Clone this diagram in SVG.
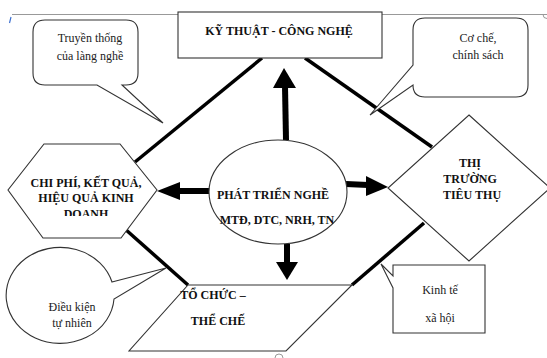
<svg xmlns="http://www.w3.org/2000/svg" width="547" height="358" viewBox="0 0 547 358">
<style>
.shape{fill:#fff;stroke:#333;stroke-width:1.1}
.thick{stroke:#000;stroke-width:3.5;fill:none}
.b{font-family:"Liberation Serif",serif;font-weight:bold;font-size:12px;fill:#111;text-anchor:middle}
.r{font-family:"Liberation Serif",serif;font-size:12px;fill:#222;text-anchor:middle}
.frame{stroke:#999;stroke-width:1;fill:none}
</style>
<defs>
<clipPath id="hexclip"><rect x="0" y="140" width="160" height="76"/></clipPath>
</defs>
<rect width="547" height="358" fill="#fff"/>
<g id="frame">
<line class="frame" x1="12" y1="14.5" x2="547" y2="14.5"/>
<path class="frame" d="M275 14.5 a4 4 0 0 0 8 0"/>
<path class="frame" d="M543 14.5 a4 4 0 0 0 4 4"/>
<path d="M11 17 l-1.5 6" stroke="#3b6fd0" stroke-width="1.2" fill="none"/>
<path class="frame" d="M275 358 a4 4 0 0 1 8 0"/>
</g>
<g id="connectors">
<line class="thick" x1="262" y1="58" x2="135" y2="162"/>
<line class="thick" x1="305" y1="58" x2="432" y2="147"/>
<line class="thick" x1="125" y1="229" x2="188" y2="285"/>
<line class="thick" x1="352" y1="285" x2="424" y2="223"/>
<line x1="286" y1="140" x2="285" y2="86" stroke="#000" stroke-width="6"/>
<polygon points="284,68 273,88 296,88" fill="#000"/>
<line x1="346" y1="184" x2="368" y2="185" stroke="#000" stroke-width="6"/>
<polygon points="388,187 366,176 366,196" fill="#000"/>
<line x1="210" y1="191" x2="178" y2="191" stroke="#000" stroke-width="6"/>
<polygon points="157,191 180,182 180,200" fill="#000"/>
<line x1="287" y1="244" x2="287" y2="264" stroke="#000" stroke-width="6"/>
<polygon points="287,280 276,262 298,262" fill="#000"/>
</g>
<g id="ky-thuat">
<rect class="shape" x="178" y="12" width="204" height="46"/>
<text class="b" x="279" y="35" font-size="12.5">KỸ THUẬT - CÔNG NGHỆ</text>
</g>
<g id="truyen-thong">
<path class="shape" d="M45 20 H126 Q138 20 138 32 V73 Q138 85 126 85 H122 L163 123 L97 85 H45 Q33 85 33 73 V32 Q33 20 45 20 Z"/>
<text class="r" x="90" y="42">Truyền thống</text>
<text class="r" x="90" y="60">của làng nghề</text>
</g>
<g id="co-che">
<path class="shape" d="M425 18 H516 Q528 18 528 30 V85 Q528 97 516 97 H425 Q413 97 413 85 L370 115 L413 65 V30 Q413 18 425 18 Z"/>
<text class="r" x="478" y="42">Cơ chế,</text>
<text class="r" x="478" y="59">chính sách</text>
</g>
<g id="chi-phi">
<polygon class="shape" points="44,144 120,144 157,190 121,238 43,238 8,190"/>
<text class="b" x="86" y="187">CHI PHÍ, KẾT QUẢ,</text>
<text class="b" x="86" y="202">HIỆU QUẢ KINH</text>
<text class="b" x="86" y="218" clip-path="url(#hexclip)">DOANH</text>
</g>
<g id="phat-trien">
<ellipse class="shape" cx="278" cy="192" rx="69" ry="52"/>
<text class="b" x="273" y="199" font-size="10">PHÁT TRIỂN NGHỀ</text>
<text class="b" x="277" y="224" font-size="9.5">MTĐ, DTC, NRH, TN</text>
</g>
<g id="thi-truong">
<polygon class="shape" points="469,115 550,188 469,261 388,188"/>
<text class="b" x="470" y="167">THỊ</text>
<text class="b" x="470" y="183">TRƯỜNG</text>
<text class="b" x="472" y="199">TIÊU THỤ</text>
</g>
<g id="to-chuc">
<polygon class="shape" points="188,285 352,285 286,351 129,351"/>
<text class="b" x="213" y="299" text-anchor="start">TỔ CHỨC –</text>
<text class="b" x="218" y="325" text-anchor="start">THỂ CHẾ</text>
</g>
<g id="dieu-kien">
<path class="shape" d="M112 282 L166 268 L114 299 A54 48 0 1 1 112 282 Z"/>
<text class="r" x="72" y="311">Điều kiện</text>
<text class="r" x="72" y="327">tự nhiên</text>
</g>
<g id="kinh-te">
<path class="shape" d="M393 265 H485 V333 H393 V288 L381 264 L393 276 Z"/>
<text class="r" x="440" y="294">Kinh tế</text>
<text class="r" x="440" y="322">xã hội</text>
</g>
</svg>
